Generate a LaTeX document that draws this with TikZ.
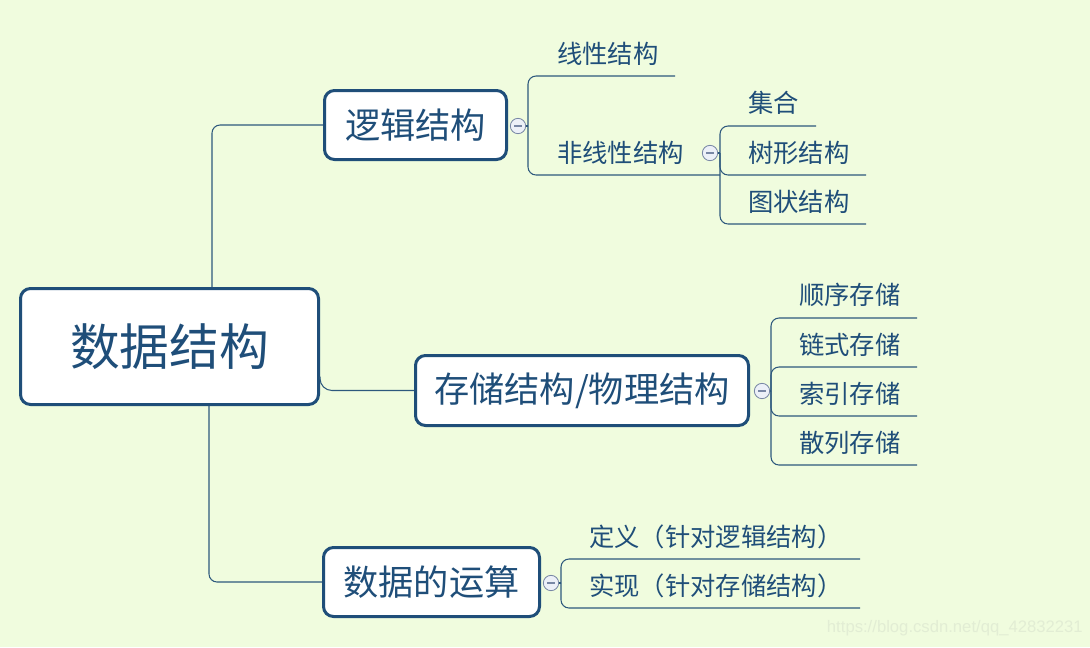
\documentclass[tikz,border=0pt]{standalone}
\usepackage{fontspec}
\newfontfamily\cjk{Noto Sans CJK SC}
\newfontfamily\wmfont{Liberation Sans}
\usetikzlibrary{calc}
\definecolor{bgc}{RGB}{240,252,222}
\definecolor{navy}{RGB}{31,78,121}
\definecolor{lineblue}{RGB}{45,88,125}
\definecolor{foldgray}{RGB}{120,135,165}
\definecolor{foldfill}{RGB}{236,240,248}
\definecolor{wmgray}{RGB}{226,237,212}
\begin{document}
\begin{tikzpicture}[x=0.75pt,y=-0.75pt,
  mainbox/.style={draw=navy, line width=2.25pt, rounded corners=7.5pt, fill=white, text=navy, inner sep=0pt, anchor=center},
  subbox/.style={mainbox, font=\cjk\fontsize{26.4pt}{30pt}\selectfont},
  leaf/.style={text=navy, font=\cjk\fontsize{19pt}{22pt}\selectfont, anchor=west, inner sep=0pt},
  conn/.style={draw=lineblue, line width=0.8pt, rounded corners=6pt},
  fold/.style={circle, draw=foldgray, fill=foldfill, line width=0.6pt, minimum size=11.5pt, inner sep=0pt,
    path picture={\draw[foldgray, line width=0.8pt] ($(path picture bounding box.center)+(-4,0)$) -- ($(path picture bounding box.center)+(4,0)$);}}
]
\fill[bgc] (0,0) rectangle (1090,647);
\useasboundingbox (0,0) rectangle (1090,647);

% main boxes
\node[mainbox, minimum width=223.5pt, minimum height=87pt, font=\cjk\fontsize{37.3pt}{42pt}\selectfont] (root) at (169.5,346.5) {数据结构};
\node[subbox, minimum width=136.5pt, minimum height=51.75pt] (logic) at (415.5,125) {逻辑结构};
\node[subbox, minimum width=249.75pt, minimum height=52.5pt] (store) at (582,390.5) {存储结构/物理结构};
\node[subbox, minimum width=162pt, minimum height=51.75pt] (ops) at (431.5,582) {数据的运算};

% root connectors
\draw[conn] ($(root.north)+(42.5,0)$) |- (logic.west);
\draw[conn, rounded corners=9pt] ($(root.east)+(0,30)$) |- (store.west);
\draw[conn] ($(root.south)+(39.5,0)$) |- (ops.west);

% fold markers
\node[fold] (f1) at (518,126) {};
\node[fold] (f2) at (710,153) {};
\node[fold] (f3) at (762,391) {};
\node[fold] (f4) at (551,583) {};

% leaves
\node[leaf] (l1) at (557,54) {线性结构};
\node[leaf] (l2) at (557,153) {非线性结构};
\node[leaf] (l21) at (748,103) {集合};
\node[leaf] (l22) at (748,153) {树形结构};
\node[leaf] (l23) at (748,202) {图状结构};
\node[leaf] (s1) at (799,295) {顺序存储};
\node[leaf] (s2) at (799,345) {链式存储};
\node[leaf] (s3) at (799,394) {索引存储};
\node[leaf] (s4) at (799,443) {散列存储};
\node[leaf] (o1) at (589,537) {定义（针对逻辑结构）};
\node[leaf] (o2) at (589,586) {实现（针对存储结构）};

% bracket points and underline ends
\coordinate (b1) at (528,126);
\coordinate (u1) at (675,76);
\coordinate (u2) at (720,175);
\coordinate (b2) at (720,153);
\coordinate (u21) at (816,126);
\coordinate (u22) at (866,175);
\coordinate (u23) at (866,224);
\coordinate (b3) at (771,391);
\coordinate (us1) at (917,318);
\coordinate (us2) at (917,367);
\coordinate (us3) at (917,416);
\coordinate (us4) at (917,465);
\coordinate (b4) at (561,583);
\coordinate (uo1) at (860,559);
\coordinate (uo2) at (860,608);

% logical structure
\draw[conn] (f1.east) -- (b1);
\draw[conn] (b1) |- (u1);
\draw[conn] (b1) |- (u2);
\draw[conn] (f2.east) -- (b2);
\draw[conn] (b2) |- (u21);
\draw[conn] (b2) |- (u22);
\draw[conn] (b2) |- (u23);

% storage
\draw[conn] (f3.east) -- (b3);
\draw[conn] (b3) |- (us1);
\draw[conn] (b3) |- (us2);
\draw[conn] (b3) |- (us3);
\draw[conn] (b3) |- (us4);

% operations
\draw[conn] (f4.east) -- (b4);
\draw[conn] (b4) |- (uo1);
\draw[conn] (b4) |- (uo2);

% watermark
\node[font=\wmfont\fontsize{12.5pt}{14pt}\selectfont, text=wmgray, anchor=east, inner sep=0pt] (wm) at (1083,628) {https://blog.csdn.net/qq\_42832231};
\end{tikzpicture}
\end{document}
